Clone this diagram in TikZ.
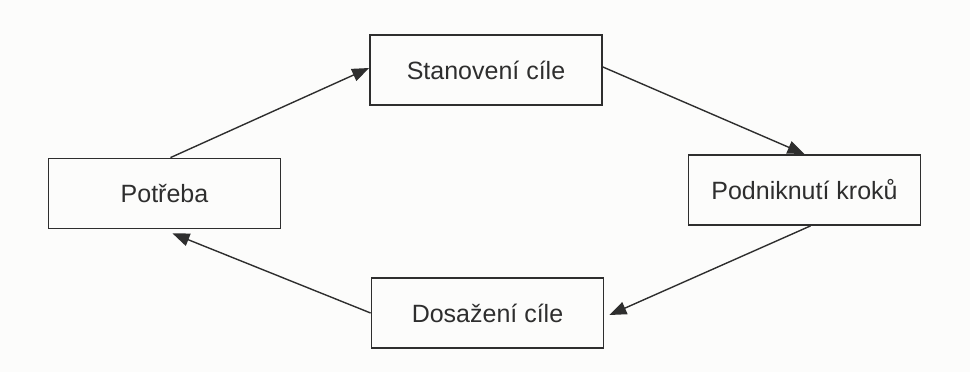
\documentclass[tikz,border=0pt]{standalone}
\usepackage{fontspec}
\setmainfont{Liberation Sans}
\usetikzlibrary{arrows.meta}
\definecolor{ink}{HTML}{2E2E2E}
\definecolor{paper}{HTML}{FCFCFB}
\begin{document}
\begin{tikzpicture}[x=1pt,y=-1pt,
  stepbox/.style={draw=ink, line width=1.8pt, fill=paper, minimum width=232pt, minimum height=70pt, inner sep=0pt, font=\fontsize{25}{30}\selectfont, text=ink},
  conn/.style={draw=ink, line width=1.4pt, -{Triangle[length=17pt,width=13pt]}}]
\useasboundingbox (0,0) rectangle (970,372);
\fill[paper] (0,0) rectangle (970,372);
\node[stepbox] (pot) at (164.5,193.5) {Potřeba};
\node[stepbox] (st) at (486,70) {Stanovení cíle};
\node[stepbox] (pod) at (804.5,190) {Podniknutí kroků};
\node[stepbox] (dos) at (487.5,313) {Dosažení cíle};
\draw[conn] ([xshift=6pt]pot.north) -- ([yshift=2pt]st.west);
\draw[conn] ([yshift=3pt]st.east) -- (pod.north);
\draw[conn] ([xshift=6pt]pod.south) -- ([yshift=-2pt,xshift=5pt]dos.east);
\draw[conn] ([yshift=0pt]dos.west) -- ([xshift=8pt,yshift=-4pt]pot.south);
\end{tikzpicture}
\end{document}
